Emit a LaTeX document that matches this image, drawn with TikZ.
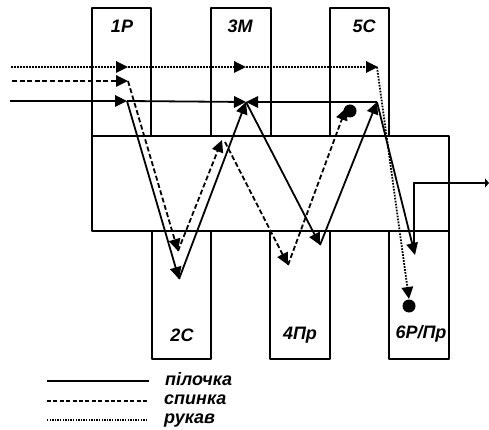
\documentclass[tikz,border=0pt]{standalone}
\usepackage{fontspec}
\setmainfont{Liberation Sans}
\usetikzlibrary{arrows.meta}
\tikzset{
 x=1pt,y=-1pt,
 boxpart/.style={draw=black,line width=1.8pt,fill=white,line join=round},
 lab/.style={font=\fontsize{18}{20}\selectfont\bfseries\itshape,inner sep=0pt},
 film/.style={draw=black,line width=1.8pt},
 solidl/.style={film},
 dashl/.style={film,dash pattern=on 5pt off 2.6pt},
 dotl/.style={film,dash pattern=on 1.7pt off 1.3pt},
 tip/.style={-{Triangle[length=12pt,width=11.5pt]}},
 dotn/.style={circle,fill=black,minimum size=13pt,inner sep=0pt},
}
\begin{document}
\begin{tikzpicture}
\useasboundingbox (0,0) rectangle (489,430);
% boxes
\draw[boxpart] (92,136) -- (92,8) -- (151,8) -- (151,136);
\draw[boxpart] (211,136) -- (211,8) -- (271,8) -- (271,136);
\draw[boxpart] (330,136) -- (330,8) -- (389,8) -- (389,136);
\draw[boxpart] (152,231) -- (152,359) -- (211,359) -- (211,231);
\draw[boxpart] (270,231) -- (270,359) -- (330,359) -- (330,231);
\draw[boxpart] (389,231) -- (389,359) -- (449,359) -- (449,231);
\draw[boxpart,fill=none] (92,136) rectangle (449,231);
% labels
\node[lab] (l1) at (122,26) {1P};
\node[lab] (l3) at (240,26) {3M};
\node[lab] (l5) at (364,26) {5C};
\node[lab] (l2) at (182,335) {2C};
\node[lab] (l4) at (300,335) {4Пр};
\node[lab] (l6) at (421,334) {6P/Пр};
% waypoints
\coordinate (ds) at (11,67);
\coordinate (d1) at (128,67);
\coordinate (d2) at (246,67);
\coordinate (d3) at (378,67);
\coordinate (d4) at (377,67);
\coordinate (d5) at (409,299);
\coordinate (bs) at (12,81);
\coordinate (b1) at (128,81);
\coordinate (b2) at (178,251);
\coordinate (b3) at (222,140);
\coordinate (b4) at (225,142);
\coordinate (b5) at (288,265);
\coordinate (b6) at (346,108);
\coordinate (fs) at (10,101);
\coordinate (f1) at (127,101);
\coordinate (f2) at (179,279);
\coordinate (f3) at (246,102);
\coordinate (f4) at (320,245);
\coordinate (f5) at (377,102);
\coordinate (f6) at (415,255);
\coordinate (o0) at (414,245);
\coordinate (o1) at (414,183);
\coordinate (o2) at (489,183);
\node[dotn] (p1) at (350,111) {};
\node[dotn] (p2) at (409,306) {};
% sleeve
\draw[dotl,tip] (ds) -- (d1);
\draw[dotl,tip] (d1) -- (d2);
\draw[dotl,tip] (d2) -- (d3);
\draw[dotl,tip] (d4) -- (d5);
% back
\draw[dashl,tip] (bs) -- (b1);
\draw[dashl,tip] (b1) -- (b2);
\draw[dashl,tip] (b2) -- (b3);
\draw[dashl,tip] (b4) -- (b5);
\draw[dashl,tip] (b5) -- (b6);
% front
\draw[solidl,tip] (fs) -- (f1);
\draw[solidl,tip] (f1) -- (f3);
\draw[solidl,tip] (f1) -- (f2);
\draw[solidl,tip] (f2) -- (f3);
\draw[solidl,tip] (f3) -- (f4);
\draw[solidl,tip] (f4) -- (f5);
\draw[solidl,tip] (f5) -- (f3);
\draw[solidl,tip] (f5) -- (f6);
\draw[solidl,-{Triangle[length=4pt,width=9pt]}] (o0) -- (o1) -- (o2);
% legend
\coordinate (a1) at (47,381);
\coordinate (a2) at (149,381);
\coordinate (b7) at (47,401);
\coordinate (b8) at (149,401);
\coordinate (c1) at (47,420);
\coordinate (c2) at (146,420);
\draw[solidl] (a1) -- (a2);
\draw[film,line width=1.4pt,dash pattern=on 4pt off 2.4pt] (b7) -- (b8);
\draw[film,line width=1.4pt,dash pattern=on 1.4pt off 1.2pt] (c1) -- (c2);
\node[lab,anchor=west] (t1) at (165,379) {пілочка};
\node[lab,anchor=west] (t2) at (164,400) {спинка};
\node[lab,anchor=west] (t3) at (164,421) {рукав};
\end{tikzpicture}
\end{document}
